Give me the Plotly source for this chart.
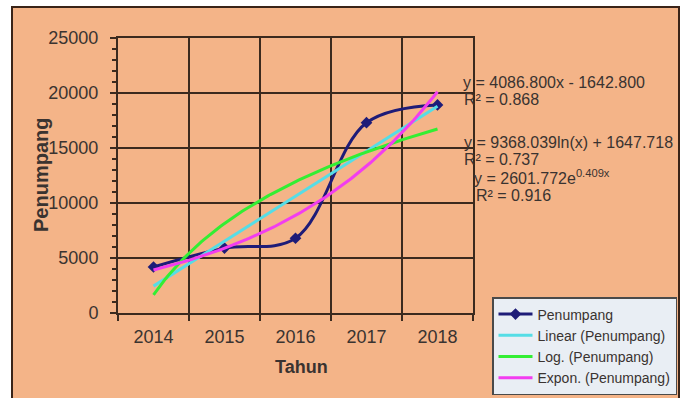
import numpy as np
import plotly.graph_objects as go

# ---- data ----
years = ["2014", "2015", "2016", "2017", "2018"]
x_idx = [1, 2, 3, 4, 5]
penumpang = [4180, 5900, 6794, 17300, 18914]

eq_lines = [
    "y = 4086.800x - 1642.800",
    "R² = 0.868",
    "y = 9368.039ln(x) + 1647.718",
    "R² = 0.737",
    "y = 2601.772e<sup>0.409x</sup>",
    "R² = 0.916",
]
legend_names = ["Penumpang", "Linear (Penumpang)", "Log. (Penumpang)", "Expon. (Penumpang)"]

# ---- trendlines (least-squares fits of the data, like Excel) ----
xa = np.array(x_idx, dtype=float)
ya = np.array(penumpang, dtype=float)
xs = np.linspace(1, 5, 120)
lin = np.polyfit(xa, ya, 1)
lg = np.polyfit(np.log(xa), ya, 1)
ex = np.polyfit(xa, np.log(ya), 1)
y_lin = np.polyval(lin, xs)
y_log = lg[0] * np.log(xs) + lg[1]
y_exp = np.exp(ex[1]) * np.exp(ex[0] * xs)

# ---- layout geometry (pixels) ----
W, H = 682, 398
L, R, T, B = 118, 473, 38, 313
def px(xp):
    return (xp - L) / (R - L)
def py(yp):
    return (B - yp) / (B - T)

BG = "#F4B488"
GRID = "#3B2A1E"
TXT = "#3A3330"
FONT = "Liberation Sans, Arial, sans-serif"

fig = go.Figure()
fig.add_trace(go.Scatter(x=x_idx, y=penumpang, mode="lines+markers", name=legend_names[0],
                         line=dict(color="#1E1C78", width=3, shape="spline", smoothing=1.0),
                         marker=dict(symbol="diamond", size=9, color="#1E1C78")))
fig.add_trace(go.Scatter(x=xs, y=y_lin, mode="lines", name=legend_names[1],
                         line=dict(color="#55DDE6", width=3)))
fig.add_trace(go.Scatter(x=xs, y=y_log, mode="lines", name=legend_names[2],
                         line=dict(color="#33EE33", width=3)))
fig.add_trace(go.Scatter(x=xs, y=y_exp, mode="lines", name=legend_names[3],
                         line=dict(color="#F23DF0", width=3)))

fig.update_layout(
    width=W, height=H,
    margin=dict(l=L, r=W - R, t=T, b=H - B, autoexpand=False),
    paper_bgcolor="white", plot_bgcolor="rgba(0,0,0,0)",
    font=dict(family=FONT, color=TXT),
    showlegend=True,
    legend=dict(x=px(492), y=py(297), xanchor="left", yanchor="top",
                bgcolor="#E9EEF4", bordercolor="#4A4A4A", borderwidth=1.5,
                font=dict(size=14, color=TXT, family=FONT),
                itemwidth=34, tracegroupgap=0),
)
fig.update_xaxes(range=[0.5, 5.5], tickmode="array", tickvals=x_idx, ticktext=years,
                 showgrid=False, ticks="", tickfont=dict(size=18, color=TXT),
                 ticklabelstandoff=6, automargin=False,
                 showline=True, linecolor=GRID, linewidth=2, mirror=True, zeroline=False,
                 minor=dict(tick0=0.5, dtick=1, showgrid=True, gridcolor=GRID, gridwidth=2,
                            ticks="outside", ticklen=6, tickcolor=GRID, tickwidth=2))
fig.update_yaxes(range=[0, 25000], dtick=5000, tickformat="d", tickfont=dict(size=18, color=TXT),
                 showgrid=True, gridcolor=GRID, gridwidth=2,
                 ticks="outside", ticklen=6, tickcolor=GRID, tickwidth=2,
                 ticklabelstandoff=8, automargin=False,
                 showline=True, linecolor=GRID, linewidth=2, mirror=True, zeroline=False,
                 minor=dict(dtick=1000, ticks="outside", ticklen=4, tickcolor=GRID, tickwidth=1.5,
                            showgrid=False))

# chart frame
fig.add_shape(type="rect", xref="paper", yref="paper", layer="below",
              x0=px(12), x1=px(679), y0=py(410), y1=py(7),
              fillcolor=BG, line=dict(color="#3A2418", width=2))

# axis titles
fig.add_annotation(text="<b>Tahun</b>", xref="paper", yref="paper", x=px(301), y=py(367),
                   showarrow=False, font=dict(size=18, color=TXT), xanchor="center", yanchor="middle")
fig.add_annotation(text="<b>Penumpang</b>", xref="paper", yref="paper", x=px(41), y=py(175),
                   showarrow=False, textangle=-90, font=dict(size=20, color=TXT),
                   xanchor="center", yanchor="middle")

# equations
eq_pos = [(461, 82), (462, 99), (462, 142), (462, 159), (472, 177), (474, 195)]
for t, (ex_, ey_) in zip(eq_lines, eq_pos):
    fig.add_annotation(text=t, xref="paper", yref="paper", x=px(ex_), y=py(ey_),
                       showarrow=False, xanchor="left", yanchor="middle",
                       font=dict(size=16, color=TXT))

fig.write_html("out.html")
